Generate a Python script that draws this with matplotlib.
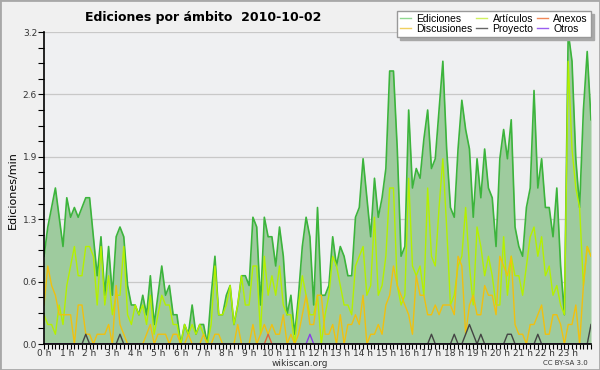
import matplotlib
matplotlib.use('Agg')
import matplotlib.pyplot as plt
import numpy as np
from matplotlib.ticker import MultipleLocator
from matplotlib.patches import Rectangle
from matplotlib.lines import Line2D

# ediciones por minuto, intervalos de 10 min (0 h .. 24 h)
ediciones = [0.9, 1.2, 1.4, 1.6, 1.3, 1.0, 1.5, 1.3, 1.4, 1.3,
             1.4, 1.5, 1.5, 1.1, 0.7, 1.1, 0.5, 1.0, 0.5, 1.1,
             1.2, 1.1, 0.6, 0.4, 0.4, 0.3, 0.5, 0.3, 0.7, 0.2,
             0.5, 0.8, 0.5, 0.6, 0.3, 0.3, 0.0, 0.2, 0.1, 0.4,
             0.1, 0.2, 0.2, 0.0, 0.5, 0.9, 0.3, 0.3, 0.5, 0.6,
             0.2, 0.4, 0.7, 0.7, 0.6, 1.3, 1.2, 0.4, 1.3, 1.1,
             1.1, 0.8, 1.2, 0.9, 0.3, 0.5, 0.1, 0.5, 1.0, 1.3,
             1.1, 0.4, 1.4, 0.5, 0.5, 0.6, 1.1, 0.8, 1.0, 0.9,
             0.7, 0.7, 1.3, 1.4, 1.9, 1.5, 1.1, 1.7, 1.3, 1.5,
             1.8, 2.8, 2.8, 2.0, 0.9, 1.0, 2.4, 1.6, 1.8, 1.7,
             2.1, 2.4, 1.8, 1.9, 2.4, 2.9, 2.0, 1.4, 1.3, 2.0,
             2.5, 2.2, 2.0, 1.3, 1.9, 1.5, 2.0, 1.6, 1.5, 1.0,
             1.9, 2.2, 1.9, 2.3, 1.2, 1.0, 0.9, 1.4, 1.6, 2.6,
             1.6, 1.9, 1.4, 1.4, 1.1, 1.6, 0.8, 0.3, 3.2, 2.9,
             1.9, 1.4, 2.4, 3.0, 2.3]
articulos = [0.3, 0.2, 0.2, 0.1, 0.4, 0.2, 0.6, 0.8, 1.0, 0.7,
             0.7, 1.0, 1.0, 0.9, 0.4, 1.0, 0.4, 0.7, 0.3, 0.5,
             0.5, 1.0, 0.3, 0.2, 0.4, 0.3, 0.4, 0.2, 0.5, 0.1,
             0.3, 0.5, 0.4, 0.4, 0.2, 0.2, 0.0, 0.2, 0.1, 0.2,
             0.1, 0.2, 0.1, 0.0, 0.2, 0.8, 0.3, 0.3, 0.4, 0.6,
             0.2, 0.4, 0.7, 0.4, 0.4, 0.8, 0.8, 0.1, 0.9, 0.5,
             0.7, 0.5, 0.8, 0.4, 0.3, 0.3, 0.0, 0.4, 0.7, 0.5,
             0.3, 0.3, 0.5, 0.0, 0.3, 0.5, 0.9, 0.8, 0.6, 0.4,
             0.4, 0.3, 0.8, 0.9, 1.0, 0.5, 0.6, 1.3, 0.5, 0.6,
             0.9, 1.6, 1.6, 0.6, 0.4, 0.5, 1.7, 0.8, 0.7, 0.8,
             0.5, 1.6, 0.9, 0.8, 1.4, 1.9, 1.2, 0.4, 0.5, 0.8,
             0.9, 1.4, 0.8, 0.4, 1.2, 1.0, 0.7, 0.9, 0.7, 0.4,
             0.4, 1.1, 0.5, 0.9, 0.7, 0.7, 0.5, 0.8, 1.1, 1.2,
             0.9, 1.1, 0.7, 0.8, 0.5, 0.6, 0.4, 0.3, 2.9, 2.0,
             1.6, 1.4, 0.6, 1.0, 0.9]
discusiones = [0.4, 0.8, 0.6, 0.5, 0.3, 0.3, 0.3, 0.3, 0.0, 0.4,
               0.4, 0.1, 0.1, 0.0, 0.1, 0.1, 0.1, 0.2, 0.0, 0.6,
               0.2, 0.1, 0.0, 0.0, 0.0, 0.0, 0.0, 0.1, 0.2, 0.0,
               0.1, 0.1, 0.1, 0.0, 0.1, 0.1, 0.0, 0.0, 0.1, 0.0,
               0.0, 0.0, 0.1, 0.0, 0.0, 0.1, 0.1, 0.0, 0.0, 0.0,
               0.0, 0.2, 0.0, 0.0, 0.0, 0.2, 0.0, 0.1, 0.2, 0.1,
               0.2, 0.1, 0.1, 0.3, 0.0, 0.1, 0.0, 0.1, 0.3, 0.5,
               0.2, 0.2, 0.5, 0.5, 0.1, 0.1, 0.2, 0.0, 0.3, 0.0,
               0.2, 0.2, 0.3, 0.2, 0.5, 0.0, 0.1, 0.1, 0.2, 0.1,
               0.4, 0.5, 0.8, 0.6, 0.5, 0.4, 0.3, 0.1, 0.7, 0.5,
               0.5, 0.3, 0.3, 0.4, 0.3, 0.4, 0.4, 0.4, 0.3, 0.9,
               0.8, 0.1, 0.4, 0.5, 0.3, 0.3, 0.6, 0.5, 0.5, 0.3,
               0.9, 0.8, 0.7, 0.9, 0.2, 0.1, 0.1, 0.0, 0.2, 0.2,
               0.3, 0.4, 0.1, 0.1, 0.3, 0.3, 0.2, 0.0, 0.2, 0.2,
               0.4, 0.0, 0.6, 1.0, 0.9]
proyecto = [0.0, 0.0, 0.0, 0.0, 0.0, 0.0, 0.0, 0.0, 0.0, 0.0,
            0.0, 0.1, 0.0, 0.0, 0.0, 0.0, 0.0, 0.0, 0.0, 0.0,
            0.1, 0.0, 0.0, 0.0, 0.0, 0.0, 0.0, 0.0, 0.0, 0.0,
            0.0, 0.0, 0.0, 0.0, 0.0, 0.0, 0.0, 0.0, 0.0, 0.0,
            0.0, 0.0, 0.0, 0.0, 0.0, 0.0, 0.0, 0.0, 0.0, 0.0,
            0.0, 0.0, 0.0, 0.0, 0.0, 0.0, 0.0, 0.0, 0.0, 0.0,
            0.0, 0.0, 0.0, 0.0, 0.0, 0.0, 0.0, 0.0, 0.0, 0.0,
            0.0, 0.0, 0.0, 0.0, 0.0, 0.0, 0.0, 0.0, 0.0, 0.0,
            0.0, 0.0, 0.0, 0.0, 0.0, 0.0, 0.0, 0.0, 0.0, 0.0,
            0.0, 0.0, 0.0, 0.0, 0.0, 0.0, 0.0, 0.0, 0.0, 0.0,
            0.0, 0.0, 0.1, 0.0, 0.0, 0.0, 0.0, 0.0, 0.1, 0.0,
            0.0, 0.1, 0.2, 0.1, 0.0, 0.1, 0.0, 0.0, 0.0, 0.0,
            0.0, 0.0, 0.1, 0.1, 0.0, 0.0, 0.0, 0.0, 0.0, 0.0,
            0.1, 0.0, 0.0, 0.0, 0.0, 0.0, 0.0, 0.0, 0.0, 0.0,
            0.0, 0.0, 0.0, 0.0, 0.2]
anexos = [0.0, 0.0, 0.0, 0.0, 0.0, 0.0, 0.0, 0.0, 0.0, 0.0,
          0.0, 0.0, 0.0, 0.0, 0.0, 0.0, 0.0, 0.0, 0.0, 0.0,
          0.0, 0.0, 0.0, 0.0, 0.0, 0.0, 0.0, 0.0, 0.0, 0.0,
          0.0, 0.0, 0.0, 0.0, 0.0, 0.0, 0.0, 0.0, 0.0, 0.0,
          0.0, 0.0, 0.0, 0.0, 0.0, 0.0, 0.0, 0.0, 0.0, 0.0,
          0.0, 0.0, 0.0, 0.0, 0.0, 0.0, 0.0, 0.0, 0.0, 0.1,
          0.0, 0.0, 0.0, 0.0, 0.0, 0.0, 0.0, 0.0, 0.0, 0.0,
          0.0, 0.0, 0.0, 0.0, 0.0, 0.0, 0.0, 0.0, 0.0, 0.0,
          0.0, 0.0, 0.0, 0.0, 0.0, 0.0, 0.0, 0.0, 0.0, 0.0,
          0.0, 0.0, 0.0, 0.0, 0.0, 0.0, 0.0, 0.0, 0.0, 0.0,
          0.0, 0.0, 0.0, 0.0, 0.0, 0.0, 0.0, 0.0, 0.0, 0.0,
          0.0, 0.0, 0.0, 0.0, 0.0, 0.0, 0.0, 0.0, 0.0, 0.0,
          0.0, 0.0, 0.0, 0.0, 0.0, 0.0, 0.0, 0.0, 0.0, 0.0,
          0.0, 0.0, 0.0, 0.0, 0.0, 0.0, 0.0, 0.0, 0.0, 0.0,
          0.0, 0.0, 0.0, 0.0, 0.0]
otros = [0.0, 0.0, 0.0, 0.0, 0.0, 0.0, 0.0, 0.0, 0.0, 0.0,
         0.0, 0.0, 0.0, 0.0, 0.0, 0.0, 0.0, 0.0, 0.0, 0.0,
         0.0, 0.0, 0.0, 0.0, 0.0, 0.0, 0.0, 0.0, 0.0, 0.0,
         0.0, 0.0, 0.0, 0.0, 0.0, 0.0, 0.0, 0.0, 0.0, 0.0,
         0.0, 0.0, 0.0, 0.0, 0.0, 0.0, 0.0, 0.0, 0.0, 0.0,
         0.0, 0.0, 0.0, 0.0, 0.0, 0.0, 0.0, 0.0, 0.0, 0.0,
         0.0, 0.0, 0.0, 0.0, 0.0, 0.0, 0.0, 0.0, 0.0, 0.0,
         0.1, 0.0, 0.0, 0.0, 0.0, 0.0, 0.0, 0.0, 0.0, 0.0,
         0.0, 0.0, 0.0, 0.0, 0.0, 0.0, 0.0, 0.0, 0.0, 0.0,
         0.0, 0.0, 0.0, 0.0, 0.0, 0.0, 0.0, 0.0, 0.0, 0.0,
         0.0, 0.0, 0.0, 0.0, 0.0, 0.0, 0.0, 0.0, 0.0, 0.0,
         0.0, 0.0, 0.0, 0.0, 0.0, 0.0, 0.0, 0.0, 0.0, 0.0,
         0.0, 0.0, 0.0, 0.0, 0.0, 0.0, 0.0, 0.0, 0.0, 0.0,
         0.0, 0.0, 0.0, 0.0, 0.0, 0.0, 0.0, 0.0, 0.0, 0.0,
         0.0, 0.0, 0.0, 0.0, 0.0]

y_ticks = [0.0, 0.64, 1.28, 1.92, 2.56, 3.2]
y_labels = ['0.0', '0.6', '1.3', '1.9', '2.6', '3.2']
x_labels = ['%d h' % h for h in range(24)]

horas = np.arange(len(ediciones)) / 6.0

fig = plt.figure(figsize=(6, 3.7), dpi=100, facecolor='#f0f0f0')
ax = fig.add_axes([44/600, 26/370, 547/600, 312/370])
ax.set_facecolor('#eff0f2')

ax.fill_between(horas, ediciones, color='#9ecb9e', lw=0, zorder=2)
ax.plot(horas, ediciones, color='#3cb43c', lw=1.2, zorder=3)
ax.plot(horas, articulos, color='#b4f000', lw=1.0, zorder=4)
ax.plot(horas, discusiones, color='#f0c010', lw=1.0, zorder=4)
ax.plot(horas, proyecto, color='#444444', lw=1.0, zorder=5)
ax.plot(horas, anexos, color='#e0643a', lw=1.0, zorder=5)
ax.plot(horas, otros, color='#8a3ee8', lw=1.0, zorder=5)

ax.set_xlim(0, 24)
ax.set_ylim(0, 3.2)
ax.set_yticks(y_ticks)
ax.set_yticklabels(y_labels)
ax.yaxis.set_minor_locator(MultipleLocator(0.16))
ax.set_xticks(range(24))
ax.set_xticklabels(x_labels, fontsize=6.5)
ax.xaxis.set_minor_locator(MultipleLocator(1/6))
ax.grid(axis='y', which='major', color='#c8c8c8', lw=0.9, zorder=1)
ax.tick_params(axis='both', which='both', direction='out', length=4, width=0.8,
               colors='black', labelcolor='#333333', pad=1)
ax.tick_params(axis='y', labelsize=6.5)
ax.tick_params(axis='x', which='both', length=3.5, pad=0)
for s in ['top', 'right']:
    ax.spines[s].set_visible(False)
for s in ['left', 'bottom']:
    ax.spines[s].set_linewidth(1.2)
    ax.spines[s].set_zorder(6)

# leyenda
handles = [Line2D([], [], color='#90d890', lw=1), Line2D([], [], color='#f0d060', lw=1),
           Line2D([], [], color='#d0f060', lw=1), Line2D([], [], color='#666666', lw=1),
           Line2D([], [], color='#f08858', lw=1), Line2D([], [], color='#9a5ef0', lw=1)]
names = ['Ediciones', 'Discusiones', 'Artículos', 'Proyecto', 'Anexos', 'Otros']
leg = fig.legend(handles, names, ncol=3, loc='upper right',
                 bbox_to_anchor=(591/600, 1 - 11/370),
                 prop={'family': 'Liberation Sans', 'size': 7.5},
                 frameon=True, fancybox=False,
                 shadow={'ox': 2, 'oy': -2, 'color': '#a8a8a8', 'alpha': 1},
                 edgecolor='#999999', facecolor='white', framealpha=1,
                 handlelength=1.1, handletextpad=0.5, columnspacing=0.3,
                 labelspacing=0.0, borderpad=0.3, borderaxespad=0)
leg.set_zorder(10)

fig.text(85/600, 1 - 17/370, 'Ediciones por ámbito  2010-10-02',
         fontsize=9, fontweight='bold', ha='left', va='center')
fig.text(13/600, 1 - 190/370, 'Ediciones/min', rotation=90, fontsize=8,
         ha='center', va='center')
fig.text(300/600, 1 - 363.5/370, 'wikiscan.org', fontsize=6.5, color='#333333',
         ha='center', va='center')
fig.text(588/600, 1 - 363/370, 'CC BY-SA 3.0', fontsize=5, color='#333333',
         ha='right', va='center')

fig.patches.append(Rectangle((0, 0), 1, 1, transform=fig.transFigure,
                             fill=False, edgecolor='#a8a8a8', lw=2))

fig.savefig('out.png', dpi=100, facecolor=fig.get_facecolor())
